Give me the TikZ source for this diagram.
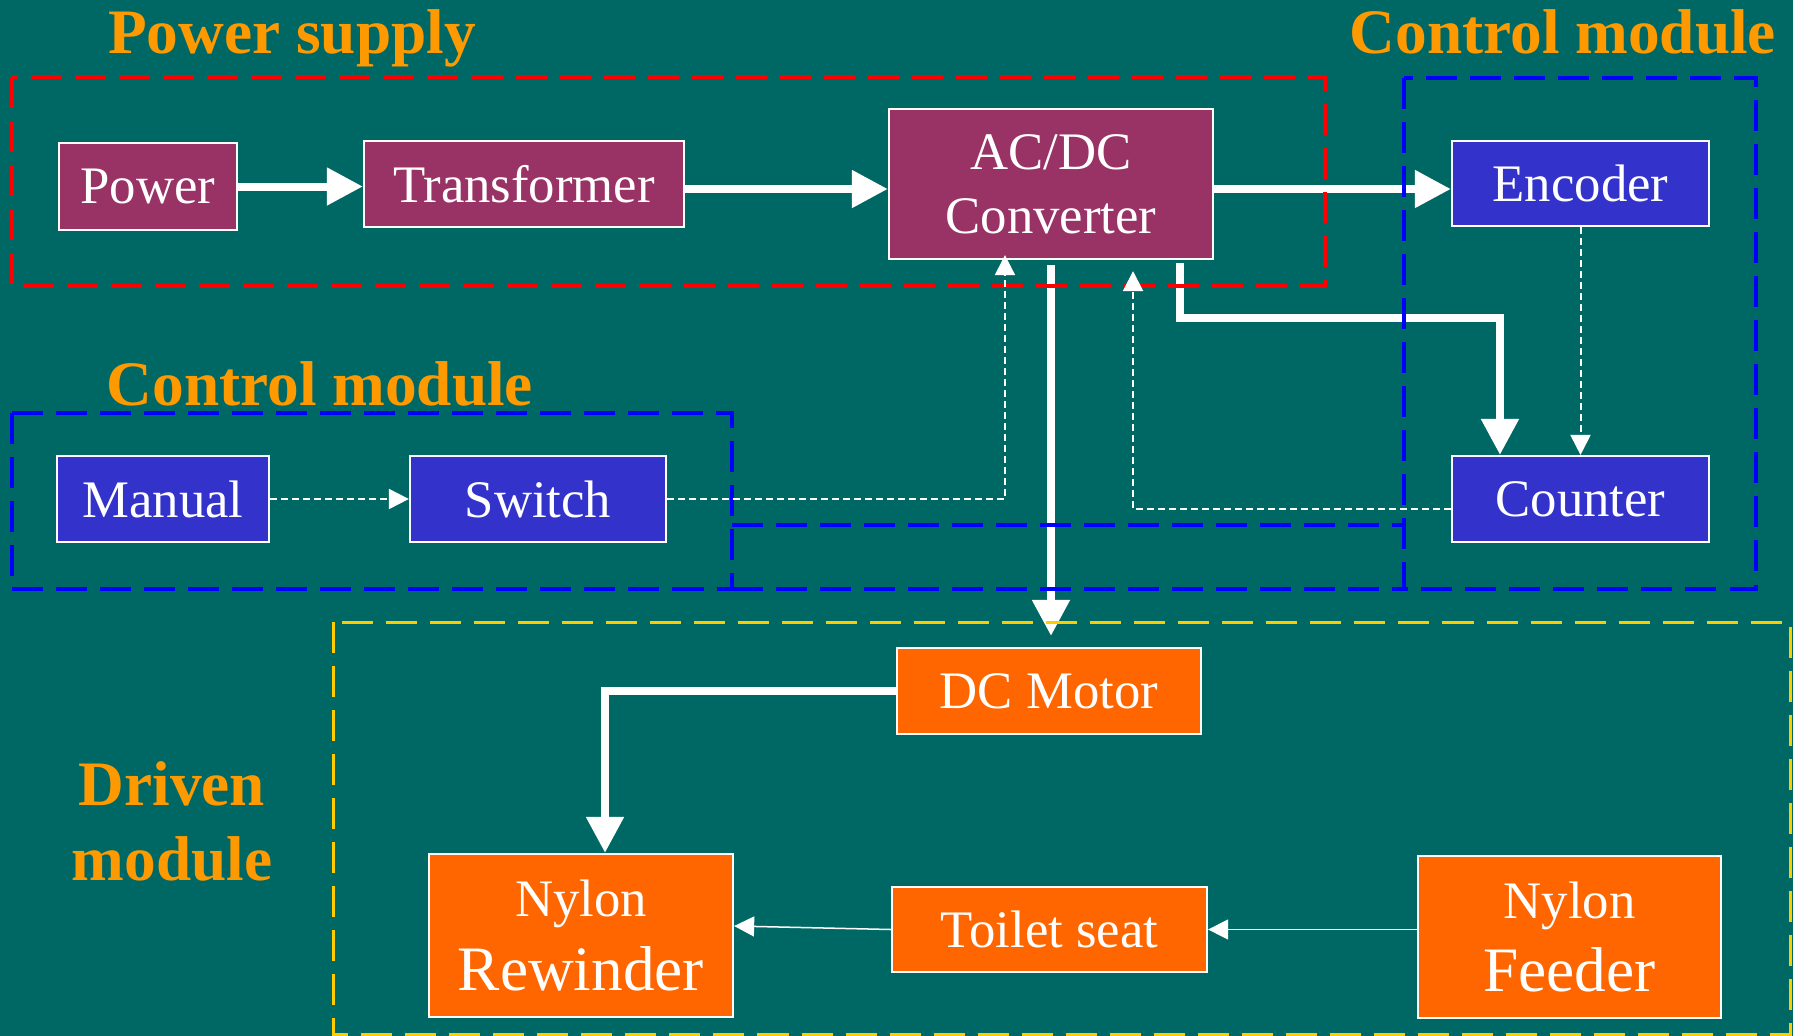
\documentclass[tikz,border=0pt]{standalone}
\usepackage{fontspec}
\setmainfont{Liberation Serif}
\usetikzlibrary{arrows.meta}

\definecolor{bgteal}{RGB}{0,104,100}
\definecolor{supplyfill}{RGB}{153,51,102}
\definecolor{controlfill}{RGB}{51,51,204}
\definecolor{drivenfill}{RGB}{255,102,0}
\definecolor{headingorange}{RGB}{255,153,0}
\definecolor{frameyellow}{RGB}{255,204,0}

\begin{document}
\begin{tikzpicture}[x=0.01cm, y=-0.01cm,
    block/.style={draw=white, line width=0.6pt, text=white, inner sep=0pt, align=center, font=\fontsize{15}{18.2}\selectfont},
    supply/.style={block, fill=supplyfill},
    control/.style={block, fill=controlfill},
    driven/.style={block, fill=drivenfill},
    heading/.style={text=headingorange, inner sep=0pt, anchor=base, font=\fontsize{18}{21.3}\selectfont\bfseries},
    module frame/.style={line width=0.04cm, dash pattern=on 0.31cm off 0.13cm},
    power line/.style={white, line width=0.08cm, -{Triangle[length=0.36cm,width=0.36cm]}},
    signal line/.style={white, line width=0.02cm, dash pattern=on 0.07cm off 0.04cm, -{Triangle[length=0.2cm,width=0.2cm]}},
    feed line/.style={white, line width=0.015cm, -{Triangle[length=0.2cm,width=0.2cm]}}]

    % Background
    \useasboundingbox (0,0) rectangle (1793,1036);
    \fill[bgteal] (0,0) rectangle (1793,1036);

    % Headings
    \node[heading] (supplytitle) at (292,53) {Power supply};
    \node[heading] (controltitle) at (1563,53) {Control module};
    \node[heading] (manualtitle) at (320,405) {Control module};
    \node[heading, anchor=center, align=center] (driventitle) at (172,821) {Driven\\module};

    % Blocks
    \node[supply, minimum width=1.78cm, minimum height=0.87cm] (power) at (148,186.5) {Power};
    \node[supply, minimum width=3.20cm, minimum height=0.86cm] (transformer) at (524,184) {Transformer};
    \node[supply, minimum width=3.24cm, minimum height=1.50cm] (acdc) at (1051,184) {AC/DC\\Converter};

    \node[control, minimum width=2.57cm, minimum height=0.85cm] (encoder) at (1580.5,183.5) {Encoder};
    \node[control, minimum width=2.57cm, minimum height=0.86cm] (counter) at (1580.5,499) {Counter};
    \node[control, minimum width=2.12cm, minimum height=0.86cm] (manual) at (163,499) {Manual};
    \node[control, minimum width=2.56cm, minimum height=0.86cm] (switch) at (538,499) {Switch};

    \node[driven, minimum width=3.04cm, minimum height=0.86cm] (motor) at (1049,691) {DC Motor};
    \node[driven, minimum width=3.04cm, minimum height=1.63cm, font=\fontsize{18}{21}\selectfont] (rewinder) at (581,935.5) {{\fontsize{15}{21}\selectfont Nylon}\\Rewinder};
    \node[driven, minimum width=3.15cm, minimum height=0.85cm] (seat) at (1049.5,929.5) {Toilet seat};
    \node[driven, minimum width=3.03cm, minimum height=1.62cm, font=\fontsize{18}{21}\selectfont] (feeder) at (1569.5,937) {{\fontsize{15}{21}\selectfont Nylon}\\Feeder};

    % Power lines
    \coordinate (trans out) at ([yshift=-0.05cm]transformer.east);
    \coordinate (acdc out) at ([yshift=-0.05cm]acdc.east);
    \draw[power line] (power.east) -- (power.east -| transformer.west);
    \draw[power line] (trans out) -- (acdc.west |- trans out);
    \draw[power line] (acdc out) -- (encoder.west |- acdc out);
    % acdc -> motor
    \draw[power line, shorten <=0.05cm, shorten >=0.11cm] (acdc.south) -- (acdc.south |- motor.north);
    % acdc -> counter
    \draw[power line, shorten <=0.03cm] ([xshift=1.29cm]acdc.south) -- ++(0,58) -| ([xshift=-0.805cm]counter.north);
    % motor -> rewinder
    \draw[power line] (motor.west) -| ([xshift=0.24cm]rewinder.north);

    % Module frames
    \draw[module frame, red] (12,77) rectangle (1325,286);
    \draw[module frame, blue] (1404,78) rectangle (1756,589);
    \draw[module frame, blue] (12,413) rectangle (732,589);
    \draw[module frame, blue] (732,525) -- (1404,525) (732,589) -- (1404,589);
    \draw[module frame, frameyellow, line width=0.03cm] (333,622) rectangle (1790,1034);

    % Signal lines
    \draw[signal line] (manual.east) -- (switch.west);
    % switch -> acdc
    \draw[signal line, shorten >=-0.05cm] (switch.east) -| ([xshift=-0.46cm]acdc.south);
    % counter -> acdc
    \draw[signal line, shorten >=0.11cm] ([yshift=-0.1cm]counter.west) -| ([xshift=0.82cm]acdc.south);
    % encoder -> counter
    \draw[signal line] (encoder.south) -- (counter.north);

    % Nylon path
    \draw[feed line] (seat.west) -- ([yshift=0.095cm]rewinder.east);
    \draw[feed line] (seat.east -| feeder.west) -- (seat.east);

\end{tikzpicture}
\end{document}
